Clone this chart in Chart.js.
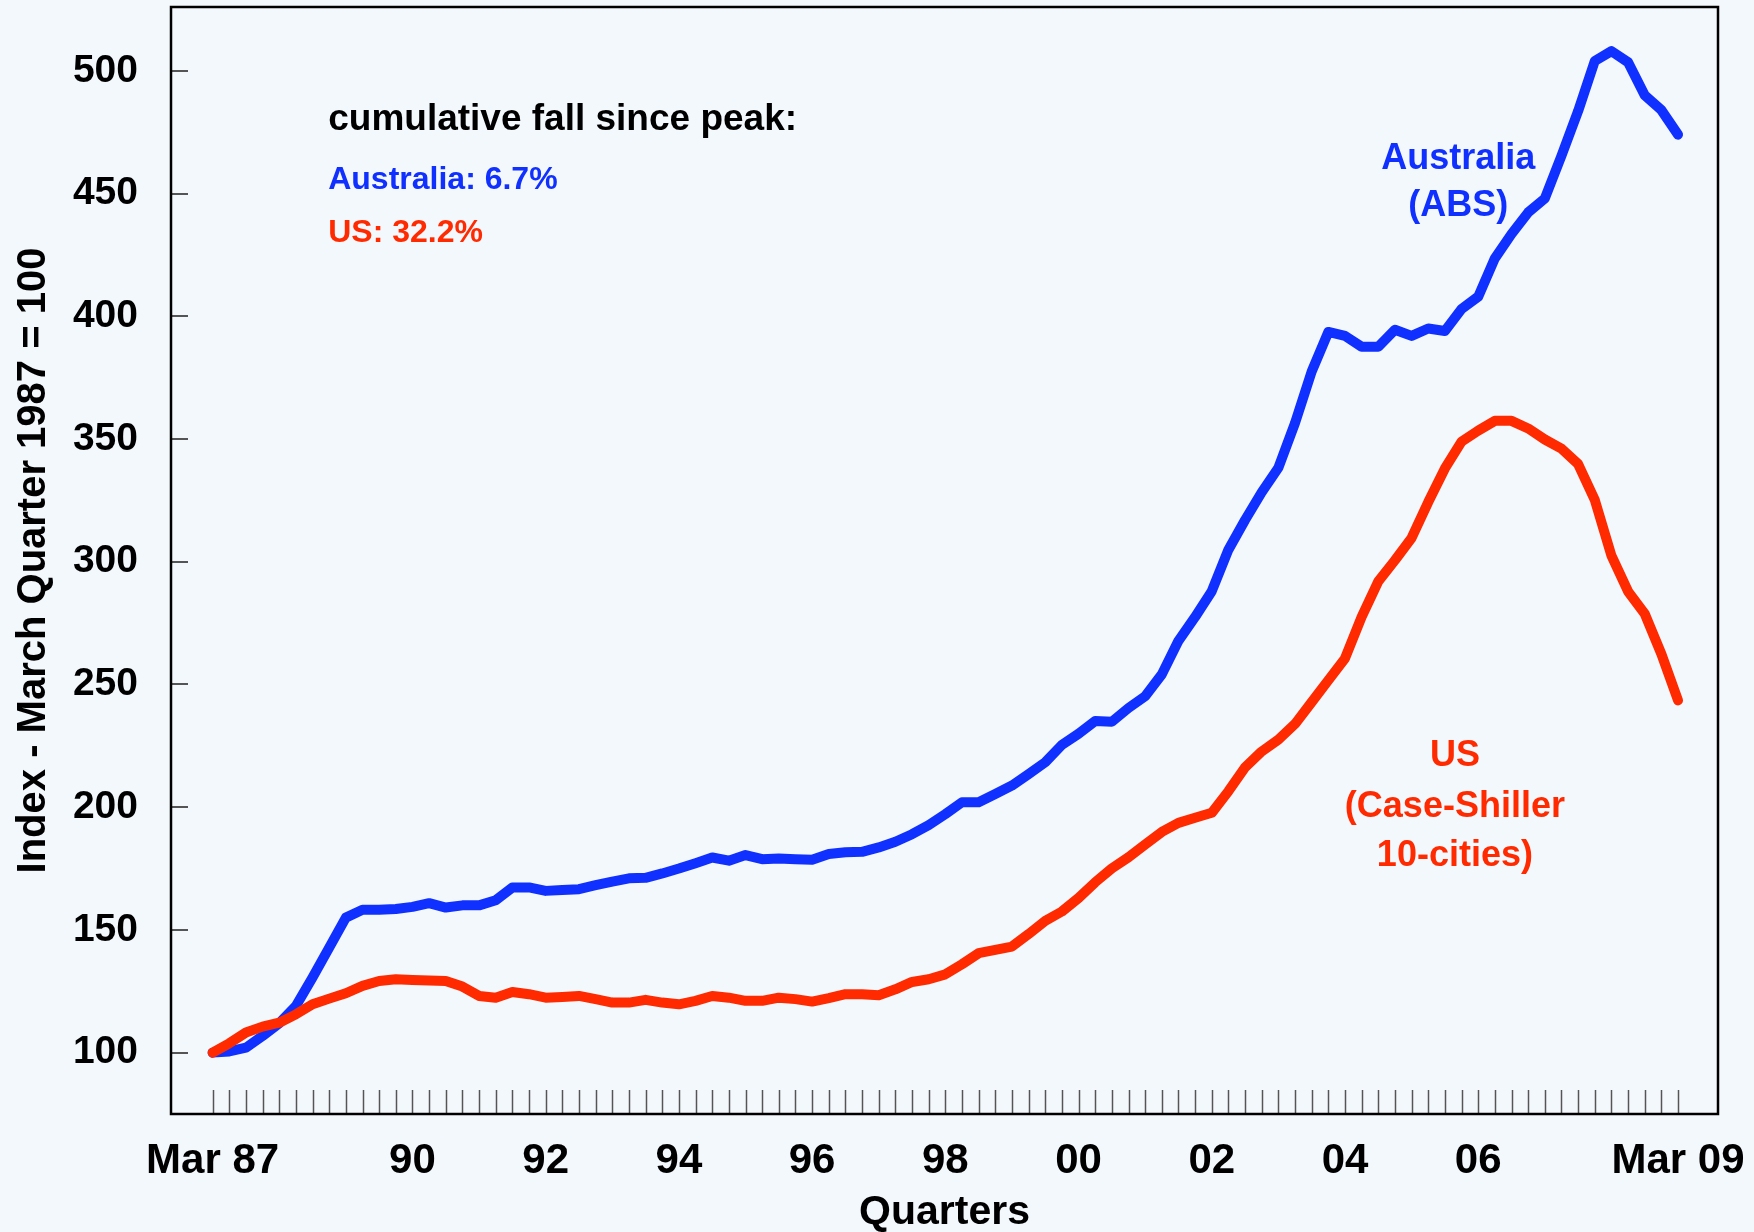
<!DOCTYPE html>
<html>
<head>
<meta charset="utf-8">
<script src="https://cdn.jsdelivr.net/npm/chart.js@4"></script>
<style>
   html, body { margin: 0; padding: 0; background: #f3f8fc; }
   #wrap { width: 1754px; height: 1232px; }
</style>
</head>
<body>
<div id="wrap"><canvas id="houseChart" width="1754" height="1232"></canvas></div>
<script>
/* -----------------------------------------------------------------------
   데이터 (Mar 87 = 0 ... Mar 09 = 88, quarterly)
   ------------------------------------------------------------------------*/
const australia = [
   100, 100.5, 102, 106.8, 112, 119, 130.6, 142.8, 155, 158.2,
   158.2, 158.5, 159.4, 160.9, 159.1, 160, 160, 162.1, 167.3, 167.3,
   165.9, 166.3, 166.6, 168.2, 169.7, 171, 171.2, 173, 175, 177.2,
   179.5, 178.2, 180.5, 178.8, 179.1, 178.8, 178.6, 180.9, 181.6, 181.8,
   183.6, 185.9, 189, 192.7, 197.2, 202, 202, 205.4, 208.8, 213.5,
   218.3, 225.4, 229.9, 235.1, 234.8, 240.4, 245.2, 254.1, 267.8, 277.5,
   288, 304.9, 317, 328.3, 338.3, 356.5, 377.5, 393.6, 392, 387.6,
   387.6, 394.5, 392, 395, 394, 403, 408, 423.6, 433.5, 442.3,
   448, 465.4, 483.6, 504, 508, 503.5, 490, 484, 474
];
const us = [
   100, 103.8, 108.2, 110.6, 112.2, 115.6, 119.7, 122, 124.2, 127.2,
   129.2, 129.9, 129.6, 129.4, 129.2, 126.9, 123.1, 122.4, 124.7, 123.8,
   122.4, 122.7, 123.1, 121.8, 120.4, 120.4, 121.5, 120.4, 119.7, 121.1,
   123.1, 122.4, 121.1, 121.1, 122.4, 121.8, 120.8, 122.2, 123.8, 123.8,
   123.4, 125.8, 128.8, 129.9, 131.9, 136, 140.5, 141.9, 143.2, 148.3,
   153.7, 157.5, 163, 169.4, 175.1, 179.6, 184.8, 189.9, 193.6, 195.7,
   197.7, 206.5, 216.2, 222.7, 227.5, 233.9, 242.8, 251.7, 260.6, 277.5,
   292, 300.6, 309.7, 324.3, 338, 348.9, 353.4, 357.4, 357.4, 354.3,
   349.8, 346.1, 339.8, 325.2, 302.5, 287.9, 278.8, 262.4, 243.5
];
const quarters = australia.map((v, idx) => idx);

const xTickValues = [0, 12, 20, 28, 36, 44, 52, 60, 68, 76, 88];
const xTickLabels = ['Mar 87', '90', '92', '94', '96', '98', '00', '02', '04', '06', 'Mar 09'];
const yTickValues = [100, 150, 200, 250, 300, 350, 400, 450, 500];

const BLUE = '#1030ff';
const RED = '#ff2a00';
const FONT = "'Liberation Sans', Arial, sans-serif";

/* -----------------------------------------------------------------------
   주석 텍스트 (x: 분기 index, y: 지수값 기준 위치)
   ------------------------------------------------------------------------*/
const notes = [
   { text: 'cumulative fall since peak:', x: 6.94, y: 475.7, color: '#000', size: 37, align: 'left' },
   { text: 'Australia: 6.7%', x: 6.94, y: 451.7, color: BLUE, size: 32, align: 'left' },
   { text: 'US: 32.2%', x: 6.94, y: 430.4, color: RED, size: 32, align: 'left' },
   { text: 'Australia', x: 74.8, y: 460.2, color: BLUE, size: 36, align: 'center' },
   { text: '(ABS)', x: 74.8, y: 440.7, color: BLUE, size: 36, align: 'center' },
   { text: 'US', x: 74.6, y: 216.8, color: RED, size: 36, align: 'center' },
   { text: '(Case-Shiller', x: 74.6, y: 196, color: RED, size: 36, align: 'center' },
   { text: '10-cities)', x: 74.6, y: 176, color: RED, size: 36, align: 'center' },
];

/* -----------------------------------------------------------------------
   플러그인 : 배경, 안쪽 눈금, 테두리, 주석
   ------------------------------------------------------------------------*/
const framePlugin = {
   id: 'framePlugin',
   beforeDraw: function(chart) {
      const ctx = chart.ctx;
      ctx.save();
      ctx.fillStyle = '#f3f8fc';
      ctx.fillRect(0, 0, chart.width, chart.height);
      ctx.restore();
   },
   beforeDatasetsDraw: function(chart) {
      const ctx = chart.ctx;
      const area = chart.chartArea;
      const xs = chart.scales.x;
      const ys = chart.scales.y;
      ctx.save();
      ctx.strokeStyle = '#555';
      ctx.lineWidth = 1.5;
      quarters.forEach(function(q) {
         const px = Math.round(xs.getPixelForValue(q)) + 0.5;
         ctx.beginPath();
         ctx.moveTo(px, area.bottom);
         ctx.lineTo(px, area.bottom - 24);
         ctx.stroke();
      });
      ctx.lineWidth = 2;
      yTickValues.forEach(function(v) {
         const py = Math.round(ys.getPixelForValue(v));
         ctx.beginPath();
         ctx.moveTo(area.left, py);
         ctx.lineTo(area.left + 17, py);
         ctx.stroke();
      });
      ctx.restore();
   },
   afterDraw: function(chart) {
      const ctx = chart.ctx;
      const area = chart.chartArea;
      const xs = chart.scales.x;
      const ys = chart.scales.y;
      ctx.save();
      ctx.strokeStyle = '#000';
      ctx.lineWidth = 2.5;
      ctx.strokeRect(area.left, area.top, area.right - area.left, area.bottom - area.top);
      ctx.textBaseline = 'alphabetic';
      notes.forEach(function(n) {
         ctx.font = 'bold ' + n.size + 'px ' + FONT;
         ctx.fillStyle = n.color;
         ctx.textAlign = n.align;
         ctx.fillText(n.text, xs.getPixelForValue(n.x), ys.getPixelForValue(n.y));
      });
      ctx.restore();
   }
};

/* -----------------------------------------------------------------------
   차트
   ------------------------------------------------------------------------*/
const makeSeries = function(values) {
   return values.map(function(v, idx) {
      return { x: quarters[idx], y: v };
   });
};

const config = {
   type: 'line',
   data: {
      datasets: [
         {
            label: 'Australia (ABS)',
            data: makeSeries(australia),
            borderColor: BLUE,
            borderWidth: 10,
            pointRadius: 0,
            borderCapStyle: 'round',
            borderJoinStyle: 'round',
            tension: 0,
            order: 2,
         }, {
            label: 'US (Case-Shiller 10-cities)',
            data: makeSeries(us),
            borderColor: RED,
            borderWidth: 10,
            pointRadius: 0,
            borderCapStyle: 'round',
            borderJoinStyle: 'round',
            tension: 0,
            order: 1,
         }
      ]
   },
   options: {
      responsive: false,
      animation: false,
      layout: {
         padding: { top: 7, right: 36, left: 0, bottom: 0 }
      },
      plugins: {
         legend: { display: false },
         tooltip: { enabled: false },
      },
      scales: {
         x: {
            type: 'linear',
            min: -2.5,
            max: 90.4,
            grid: { display: false, drawTicks: false },
            border: { display: false },
            afterBuildTicks: function(scale) {
               scale.ticks = xTickValues.map(function(v) { return { value: v }; });
            },
            afterFit: function(scale) {
               scale.height = 118;
               scale.paddingLeft = 0;
               scale.paddingRight = 0;
            },
            ticks: {
               autoSkip: false,
               maxRotation: 0,
               padding: 22,
               color: '#000',
               font: { family: FONT, size: 42, weight: 'bold' },
               callback: function(value) {
                  const idx = xTickValues.indexOf(value);
                  return idx >= 0 ? xTickLabels[idx] : '';
               }
            },
            title: {
               display: true,
               text: 'Quarters',
               color: '#000',
               padding: { top: 0, bottom: -5 },
               font: { family: FONT, size: 41, weight: 'bold' },
            }
         },
         y: {
            min: 75,
            max: 526,
            grid: { display: false, drawTicks: false },
            border: { display: false },
            afterBuildTicks: function(scale) {
               scale.ticks = yTickValues.map(function(v) { return { value: v }; });
            },
            afterFit: function(scale) {
               scale.width = 171;
               scale.paddingTop = 0;
               scale.paddingBottom = 0;
            },
            ticks: {
               padding: 33,
               color: '#000',
               font: { family: FONT, size: 39, weight: 'bold' },
            },
            title: {
               display: true,
               text: 'Index - March Quarter 1987 = 100',
               color: '#000',
               padding: { top: 10, bottom: 0 },
               font: { family: FONT, size: 40, weight: 'bold' },
            }
         }
      }
   },
   plugins: [framePlugin]
};

const houseChart = new Chart(document.getElementById('houseChart'), config);
</script>
</body>
</html>
